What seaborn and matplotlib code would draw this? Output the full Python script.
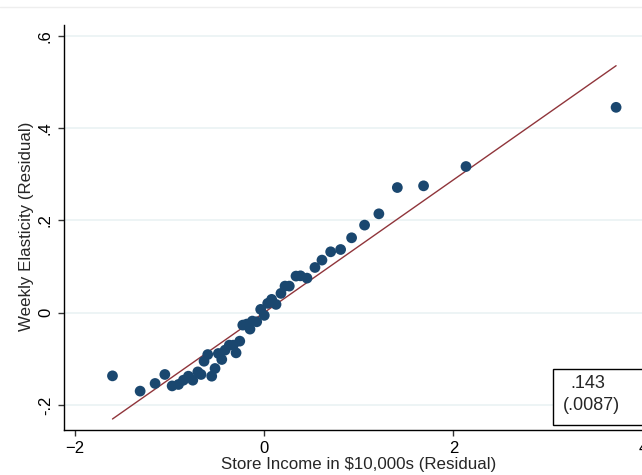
import matplotlib
matplotlib.use("Agg")
import matplotlib.pyplot as plt
import seaborn as sns
import pandas as pd
import numpy as np
from matplotlib.patches import Rectangle
from matplotlib.lines import Line2D

# Binned residuals
income_resid = [-1.600, -1.308, -1.150, -1.047, -0.970, -0.903, -0.851, -0.798, -0.752, -0.699,
                -0.665, -0.633, -0.594, -0.552, -0.517, -0.482, -0.446, -0.411, -0.366, -0.324,
                -0.295, -0.256, -0.224, -0.182, -0.148, -0.123, -0.077, -0.035, 0.003, 0.039,
                0.081, 0.127, 0.179, 0.222, 0.267, 0.338, 0.385, 0.454, 0.538, 0.612,
                0.704, 0.809, 0.925, 1.062, 1.213, 1.408, 1.685, 2.133, 3.718]
elasticity_resid = [-0.1370, -0.1701, -0.1535, -0.1340, -0.1588, -0.1557, -0.1464, -0.1377, -0.1464, -0.1284,
                    -0.1340, -0.1053, -0.0908, -0.1377, -0.1210, -0.0885, -0.1015, -0.0812, -0.0704, -0.0704,
                    -0.0871, -0.0617, -0.0269, -0.0247, -0.0356, -0.0182, -0.0197, 0.0072, -0.0058, 0.0202,
                    0.0289, 0.0180, 0.0419, 0.0577, 0.0577, 0.0794, 0.0800, 0.0750, 0.0981, 0.1141,
                    0.1321, 0.1371, 0.1625, 0.1900, 0.2145, 0.2715, 0.2752, 0.3171, 0.4455]
fit_slope = 0.1441
fit_intercept = 0.0
coef_label = ".143"
se_label = "(.0087)"
x_ticks = [-2, 0, 2, 4]
x_tick_labels = ["\u22122", "0", "2", "4"]
y_ticks = [-0.2, 0, 0.2, 0.4, 0.6]
y_tick_labels = ["-.2", "0", ".2", ".4", ".6"]

df = pd.DataFrame({"x": income_resid, "y": elasticity_resid})

sns.set_theme(style="white")
plt.rcParams["font.family"] = ["Liberation Sans", "DejaVu Sans"]

W, H = 642, 475
fig = plt.figure(figsize=(W / 100, H / 100), dpi=100)
fig.patch.set_facecolor("white")

PXX, X0 = 94.7, 264.0      # px per x unit, px of x=0
PXY, Y0 = 461.0, 312.7     # px per y unit, px of y=0
left_px, right_px, top_px, bottom_px = 64, 700, 25, 430
ax = fig.add_axes([left_px / W, 1 - bottom_px / H, (right_px - left_px) / W, (bottom_px - top_px) / H])
ax.set_facecolor("white")

ax.set_xlim((left_px - X0) / PXX, (right_px - X0) / PXX)
ax.set_ylim((Y0 - bottom_px) / PXY, (Y0 - top_px) / PXY)

# gridlines
for yt in y_ticks:
    ax.axhline(yt, color="#eaf2f3", lw=1.2, zorder=0)

sns.scatterplot(data=df, x="x", y="y", ax=ax, color="#1a476f", s=60,
                edgecolor="none", linewidth=0, zorder=3, legend=False)

xf = np.array([min(income_resid), max(income_resid)])
ax.plot(xf, fit_intercept + fit_slope * xf, color="#90353b", lw=1.0, zorder=2)

ax.set_xticks(x_ticks)
ax.set_xticklabels(x_tick_labels)
ax.set_yticks(y_ticks)
ax.set_yticklabels(y_tick_labels, rotation=90, va="center")
ax.tick_params(axis="both", direction="out", length=4.5, width=1, color="#333333",
               labelsize=12, labelcolor="black", pad=3.5)
ax.tick_params(axis="x", bottom=True)
ax.tick_params(axis="y", left=True)

for s in ["top", "right"]:
    ax.spines[s].set_visible(False)
for s in ["left", "bottom"]:
    ax.spines[s].set_color("black")
    ax.spines[s].set_linewidth(1.0)

axw = right_px - left_px
axh = bottom_px - top_px
ax.set_xlabel("Store Income in $10,000s (Residual)", fontsize=12.2)
ax.xaxis.label.set_va("center")
ax.xaxis.set_label_coords((359 - left_px) / axw, -(465 - bottom_px) / axh)
ax.set_ylabel("Weekly Elasticity (Residual)", fontsize=12.2)
ax.yaxis.label.set_va("center")
ax.yaxis.set_label_coords((26 - left_px) / axw, (bottom_px - 226.5) / axh)

# coefficient box
bx0 = (553.3 - X0) / PXX
by_top = (Y0 - 369) / PXY
by_bot = (Y0 - 425) / PXY
ax.add_patch(Rectangle((bx0, by_bot), 2.0, by_top - by_bot, facecolor="white",
                       edgecolor="black", lw=1.0, zorder=4))
ax.text((588 - X0) / PXX, (Y0 - 384) / PXY, coef_label, ha="center", va="center",
        fontsize=13, zorder=5)
ax.text((591 - X0) / PXX, (Y0 - 406) / PXY, se_label, ha="center", va="center",
        fontsize=13, zorder=5)

# faint top border line
fig.add_artist(Line2D([0, 1], [1 - 7 / H, 1 - 7 / H], color="#eeeeee", lw=1.0,
                      transform=fig.transFigure))

fig.savefig("out.png", dpi=100)
